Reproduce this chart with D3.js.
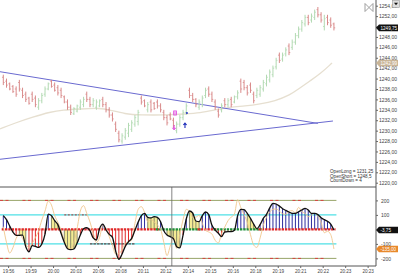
<!DOCTYPE html>
<html><head><meta charset="utf-8">
<script src="https://cdn.jsdelivr.net/npm/d3@7"></script>
<style>body{margin:0;background:#fff}svg{display:block}text{font-family:"Liberation Sans",Arial,sans-serif}</style>
</head><body><svg id="c" width="400" height="277"></svg>
<script>
// ---------- DATA ----------
const open=[1240.25,1239.5,1239,1238.5,1238,1239.25,1237.75,1237,1236.25,1237,
1236.25,1234.5,1235.75,1237,1238,1239.5,1238.75,1238.25,1237.75,1236.5,
1235.5,1234.5,1233.25,1233.75,1234.5,1235,1237,1236,1235,1234.5,
1234.75,1236,1235,1234,1233,1231.25,1229.5,1228,1228.75,1229.5,
1230.25,1231.25,1231.75,1236.25,1235.75,1234,1235.5,1235.25,1235.5,1234.75,
1233.5,1232.5,1233,1232,1230,1231.25,1232.5,1233.5,1237.75,1236.75,
1236,1234.5,1235,1236.75,1238,1237,1235.5,1233.75,1234,1235.75,
1235,1236,1235.5,1236.5,1239.5,1239.25,1238.25,1238.75,1237,1236.75,
1237,1238,1239,1239.75,1240.75,1242.25,1244.5,1243.75,1244.75,1246.25,
1246,1247,1248.25,1249.5,1250.5,1251.75,1251.25,1251.75,1253.25,1252.25,
1250,1251.75,1251.25,1250.5];
const high=[1240.75,1240,1239.25,1238.75,1238.5,1239.75,1238.25,1237.5,1236.5,1237.5,
1236.75,1236.25,1237.25,1238.5,1239.25,1239.75,1239.25,1238.75,1238.25,1236.75,
1236,1235,1234.5,1235,1236,1236.5,1237.5,1236.5,1236.25,1236,
1236,1236.5,1235.5,1234.5,1233.5,1231.75,1230,1229.5,1230.5,1231.5,
1232,1233,1234,1236.75,1236,1235.5,1236,1235.5,1236,1235.25,
1234,1233,1233.5,1232.5,1231.75,1233,1234,1235.25,1238.25,1237.25,
1236.25,1236,1236.75,1238.25,1238.5,1237.5,1236,1234.25,1235.25,1236.25,
1236.25,1236.5,1236.75,1237.75,1240,1239.75,1238.75,1239.25,1237.5,1238.25,
1238.75,1239.75,1240.75,1241.75,1242.5,1244,1245,1245,1246,1246.75,
1247.5,1248.75,1250,1251.25,1252.25,1252.25,1252.5,1253.25,1253.75,1252.75,
1252.25,1252.25,1251.75,1250.75];
const low=[1238.75,1238.25,1237.75,1237.25,1236.5,1237.5,1236.25,1235.5,1235,1235.5,
1234.5,1234,1235.25,1236.5,1237.75,1238.25,1237.5,1236.75,1236.25,1235.25,
1234,1233,1233,1233.5,1234,1234.5,1235.5,1234.5,1234.5,1234,
1234.5,1234.5,1233.5,1232.5,1231.75,1229.75,1227.75,1227.5,1228.25,1228.75,
1229.75,1230.75,1231,1235,1234.5,1233.5,1233.5,1234,1234.25,1233.5,
1232,1231,1232,1230.5,1229.5,1230.75,1232,1233,1236.25,1235.5,
1234.5,1234,1234.5,1236.25,1236.5,1235.5,1234,1232.5,1233.5,1234.5,
1234.5,1234.5,1235.25,1236,1237.25,1237.75,1236.75,1237.25,1235.25,1236.25,
1236.5,1237.5,1238.5,1239.25,1240.25,1241.75,1243,1243.25,1244.25,1244.5,
1245.5,1246.5,1247.75,1249,1250,1250.25,1250.75,1251.25,1251.75,1250.75,
1249.25,1250.25,1249.75,1249.25];
const close=[1239.25,1238.75,1238,1237.5,1237,1238,1236.75,1236,1235.25,1236,
1235,1235.75,1236.75,1238,1239,1238.5,1237.75,1237.25,1236.75,1235.5,
1234.5,1233.5,1234.25,1234.75,1235.5,1236,1236,1235,1235.75,1235.5,
1235.75,1235,1234,1233,1232.25,1230.25,1228.25,1229,1230,1231,
1231.5,1232.5,1233.5,1235.5,1234.75,1235,1234,1234.25,1234.75,1234,
1232.5,1231.5,1232.25,1231,1231.25,1232.5,1233.5,1234.75,1236.75,1236,
1235,1235.5,1236.25,1237.75,1237,1236,1234.5,1233,1234.75,1235,
1235.75,1235,1236.5,1237.25,1238,1238.25,1237.25,1237.75,1235.75,1237.75,
1238.25,1239.25,1240.25,1241.25,1242,1243.5,1243.5,1244.5,1245.5,1245,
1247,1248.25,1249.5,1250.75,1251.75,1250.75,1252,1252.75,1252.25,1251.25,
1251.5,1250.75,1250.25,1249.75];

const maIdx=[-1.03,3.64,9.25,14.55,18.6,23.9,30.1,33.2,37.9,42.6,51,56.6,61.3,65.9,70.6,75.3,80,84.6,89.3,92.4,95.5,98.7,102.4];
const maVal=[1230.32,1231.47,1232.62,1233.58,1233.97,1234.16,1234.35,1233.97,1233.2,1233.0,1233.0,1233.2,1233.39,1233.97,1234.54,1234.73,1235.12,1235.69,1236.85,1238.19,1239.54,1240.88,1242.99];

const upperIdx=[-1.03,98.0], upperPrice=[1241.32,1231.39];
const lowerIdx=[-1.03,102.7], lowerPrice=[1224.50,1231.85];

const markIdx=[53.5,53.2,57.2,56.6];
const markPrice=[1233.39,1230.5,1233.39,1231.08];
const markType=["shortSet","shortEntry","longSet","longEntry"];

const cci=[95,67,23,-18,-41,-41,-39,-119,-154,-112,
-117,-124,-101,-32,106,95,60,33,-27,-89,
-133,-140,-135,-94,-39,5,12,-9,-59,-73,
7,37,-4,-34,-55,-149,-206,-170,-117,-85,
-62,-6,49,95,111,83,79,88,83,53,
-9,-39,-50,-64,-119,-128,-39,72,127,113,
58,53,95,120,102,28,-4,-27,-50,-18,
-16,-16,-6,95,138,136,111,76,37,5,
33,76,104,148,180,175,161,143,131,120,
111,111,122,134,145,134,111,111,102,81,
67,56,37,-3.75];
const turbo=[19,-91,-163,-126,-62,-32,-62,-103,-126,-96,
-57,-9,65,127,195,168,95,49,-6,-80,
-126,-133,-89,7,127,164,111,51,-23,-91,
-55,28,5,-50,-110,-170,-167,-138,-94,-87,
-73,40,138,157,118,53,69,51,30,3,
-89,-181,-115,-52,-131,-34,67,138,125,83,
85,97,42,-6,-18,-32,-75,-94,-29,16,
60,85,106,205,150,102,49,-36,-108,-124,
-59,28,85,120,138,141,127,108,104,125,
129,115,152,122,111,88,99,111,90,49,
-23,-13,-36,-135];
const neutralRanges=[[5,7],[15,18],[19,23],[45,48],[51,55],[58,61],[76,79]];
const zeroStart=[0,48,61,66,80], zeroEnd=[48,61,66,80,103];
const zeroState=["trend","chop","trend","chop","trend"];
const crossIdx=52.5;

const tickIdx=[1.5,8.5,15.5,22.5,29.5,36.5,43.5,50.5,57.5,64.5,71.5,78.5,85.5,92.5,99.5,106.5,113.5];
const tickLabels=["19:56","19:59","20:00","20:03","20:06","20:08","20:11","20:12","20:14","20:15","20:16","20:18","20:19","20:21","20:22","20:23","20:23"];
const priceTicks=[1220,1222,1224,1226,1228,1230,1232,1234,1236,1238,1240,1242,1244,1246,1248,1250,1252,1254];
const cciTicks=[200,100,-100,-200];
const infoLines=["OpenLong = 1231,25","OpenShort = 1248,5","CountDown = 4"];

// ---------- DRAW ----------
const svg=d3.select('#c');
const AX=376, SEP=187, XAX=266;
const x=d3.scaleLinear().domain([0,103]).range([3.3,3.3+103*3.21]);
const yP=d3.scaleLinear().domain([1220,1254]).range([182.7,5.7]);
const yC=d3.scaleLinear().domain([-200,200]).range([258.4,200.4]);
const fmt=d=>d.toFixed(2).replace('.',',');
const FS=5;

svg.append('rect').attr('width',400).attr('height',277).attr('fill','#fff');
const defs=svg.append('defs');
defs.append('clipPath').attr('id','cu').append('rect').attr('x',0).attr('y',0).attr('width',AX).attr('height',SEP-0.5);
defs.append('clipPath').attr('id','cl').append('rect').attr('x',0).attr('y',SEP+0.5).attr('width',AX).attr('height',XAX-SEP-1);

const gU=svg.append('g').attr('clip-path','url(#cu)');
gU.append('path').datum(maIdx.map((d,i)=>[d,maVal[i]]))
  .attr('d',d3.line().x(d=>x(d[0])).y(d=>yP(d[1])).curve(d3.curveBasis))
  .attr('fill','none').attr('stroke','#e6dfd0').attr('stroke-width',1.3);
[[upperIdx,upperPrice],[lowerIdx,lowerPrice]].forEach(([ix,pr])=>{
  gU.append('path').datum(ix.map((d,i)=>[d,pr[i]]))
    .attr('d',d3.line().x(d=>x(d[0])).y(d=>yP(d[1])))
    .attr('fill','none').attr('stroke','#6a6ad0').attr('stroke-width',1);
});
const idx=d3.range(open.length);
const col=i=>close[i]<open[i]?'#d98a8a':'#b2dab2';
const bg=gU.append('g');
bg.selectAll('line.hl').data(idx).join('line').attr('class','hl')
  .attr('x1',i=>x(i)).attr('x2',i=>x(i)).attr('y1',i=>yP(high[i])).attr('y2',i=>yP(low[i]))
  .attr('stroke',col).attr('stroke-width',1);
bg.selectAll('line.o').data(idx).join('line').attr('class','o')
  .attr('x1',i=>x(i)-1.3).attr('x2',i=>x(i)).attr('y1',i=>yP(open[i])).attr('y2',i=>yP(open[i]))
  .attr('stroke',col).attr('stroke-width',0.8);
bg.selectAll('line.c').data(idx).join('line').attr('class','c')
  .attr('x1',i=>x(i)).attr('x2',i=>x(i)+1.3).attr('y1',i=>yP(close[i])).attr('y2',i=>yP(close[i]))
  .attr('stroke',col).attr('stroke-width',0.8);
markIdx.forEach((m,k)=>{
  const cx=x(m), cy=yP(markPrice[k]), t=markType[k];
  if(t==='shortSet'){
    gU.append('rect').attr('x',cx-1.3).attr('y',cy-2).attr('width',2.6).attr('height',4).attr('fill','none').attr('stroke','#e040e0').attr('stroke-width',0.9);
    gU.append('line').attr('x1',cx-1.3).attr('x2',cx+1.3).attr('y1',cy).attr('y2',cy).attr('stroke','#e040e0').attr('stroke-width',0.7);
  } else if(t==='shortEntry'){
    gU.append('path').attr('d',`M${cx},${cy-3}V${cy+1}M${cx-1.6},${cy-0.2}L${cx},${cy+1.8}L${cx+1.6},${cy-0.2}`).attr('fill','none').attr('stroke','#e040e0').attr('stroke-width',1);
    gU.append('circle').attr('cx',cx).attr('cy',cy+0.5).attr('r',1.2).attr('fill','#e060e0').attr('opacity',0.6);
  } else if(t==='longSet'){
    gU.append('circle').attr('cx',cx).attr('cy',cy).attr('r',1).attr('fill','#2030c0');
  } else {
    gU.append('path').attr('d',`M${cx},${cy+3}V${cy-1.5}M${cx-1.6},${cy}L${cx},${cy-2}L${cx+1.6},${cy}`).attr('fill','none').attr('stroke','#1a2ab8').attr('stroke-width',1.1);
  }
});
infoLines.forEach((t,k)=>{
  svg.append('text').attr('x',330).attr('y',172.8+k*4.7).attr('font-size',4.6).attr('fill','#333').text(t);
});

// ---------- LOWER PANEL ----------
const gL=svg.append('g').attr('clip-path','url(#cl)');
const xEnd=x(103)+2.5;
[200,-200].forEach(v=>{
  gL.append('line').attr('x1',0).attr('x2',xEnd).attr('y1',yC(v)).attr('y2',yC(v)).attr('stroke','#8c9a58').attr('stroke-width',0.9);
  gL.append('line').attr('x1',0).attr('x2',xEnd).attr('y1',yC(v)).attr('y2',yC(v)).attr('stroke','#d84040').attr('stroke-width',1).attr('stroke-dasharray','3,2.5,3,14');
});
[100,-100].forEach(v=>{
  gL.append('line').attr('x1',0).attr('x2',xEnd).attr('y1',yC(v)).attr('y2',yC(v)).attr('stroke','#4fe0e6').attr('stroke-width',1.4);
});
gL.append('line').attr('x1',x(19)).attr('x2',x(26)).attr('y1',yC(100)).attr('y2',yC(100)).attr('stroke','#b03030').attr('stroke-width',1).attr('stroke-dasharray','2,1.5');
gL.append('line').attr('x1',x(27)).attr('x2',x(41)).attr('y1',yC(-100)).attr('y2',yC(-100)).attr('stroke','#602020').attr('stroke-width',1).attr('stroke-dasharray','2.5,1');
const area=d3.area().x(i=>x(i)).y0(yC(0)).y1(i=>yC(cci[i]));
neutralRanges.forEach(([a,b])=>{
  gL.append('path').datum(d3.range(a,b+1)).attr('d',area).attr('fill','#f3ea88').attr('opacity',0.9);
});
const isNeutral=i=>neutralRanges.some(([a,b])=>i>=a&&i<=b);
gL.selectAll('line.h').data(idx).join('line').attr('class','h')
  .attr('x1',i=>x(i)).attr('x2',i=>x(i)).attr('y1',yC(0)).attr('y2',i=>yC(cci[i]))
  .attr('stroke',i=>isNeutral(i)?'#8a8a6a':(cci[i]>=0?'#2d2d9e':'#e02a2a')).attr('stroke-width',1);
zeroStart.forEach((a,k)=>{
  gL.append('line').attr('x1',x(a)-1.6).attr('x2',Math.min(x(zeroEnd[k])+1.6,xEnd)).attr('y1',yC(0)).attr('y2',yC(0))
    .attr('stroke',zeroState[k]==='trend'?'#e02828':'#1f8f3a').attr('stroke-width',2.4).attr('stroke-dasharray','2.4,0.9');
});
gL.append('path').datum(idx).attr('d',d3.line().x(i=>x(i)).y(i=>yC(turbo[i])).curve(d3.curveMonotoneX))
  .attr('fill','none').attr('stroke','#f0c68c').attr('stroke-width',0.9);
gL.append('path').datum(idx).attr('d',d3.line().x(i=>x(i)).y(i=>yC(cci[i])).curve(d3.curveMonotoneX))
  .attr('fill','none').attr('stroke','#111').attr('stroke-width',1.3);
svg.append('line').attr('x1',x(crossIdx)).attr('x2',x(crossIdx)).attr('y1',SEP).attr('y2',XAX).attr('stroke','#666').attr('stroke-width',0.8);

// ---------- AXES & FRAME ----------
svg.append('line').attr('x1',0).attr('x2',AX).attr('y1',SEP).attr('y2',SEP).attr('stroke','#555').attr('stroke-width',1);
svg.append('line').attr('x1',0).attr('x2',AX).attr('y1',XAX).attr('y2',XAX).attr('stroke','#555').attr('stroke-width',1);
svg.append('line').attr('x1',AX).attr('x2',AX).attr('y1',0).attr('y2',XAX).attr('stroke','#555').attr('stroke-width',1);

function styleAxis(g){
  g.select('.domain').remove();
  g.selectAll('line').attr('stroke','#666');
  g.selectAll('text').attr('font-size',FS).attr('fill','#444').attr('font-family','"Liberation Sans",Arial,sans-serif');
}
const lastClose=close[close.length-1];
const pAxis=svg.append('g').attr('transform',`translate(${AX},0)`)
  .call(d3.axisRight(yP).tickValues(priceTicks).tickFormat(fmt).tickSize(2).tickPadding(1)).call(styleAxis);
// label that sits beneath the last-price box is hidden by it, as in the reference
pAxis.selectAll('.tick').filter(d=>Math.abs(yP(d)-yP(lastClose))<4.5).select('text').remove();
svg.append('g').attr('transform',`translate(${AX},0)`)
  .call(d3.axisRight(yC).tickValues(cciTicks).tickFormat(d=>String(d)).tickSize(2).tickPadding(3)).call(styleAxis);
svg.append('g').attr('transform',`translate(0,${XAX})`)
  .call(d3.axisBottom(x).tickValues(tickIdx).tickFormat((d,i)=>tickLabels[i]).tickSize(2).tickPadding(1.5)).call(styleAxis)
  .selectAll('text').attr('font-size',4.6);

function box(yv,fill,tcol,txt){
  const g=svg.append('g');
  g.append('path').attr('d',`M${AX},${yv}L${AX+3},${yv-3.3}H${AX+22}V${yv+3.3}H${AX+3}Z`).attr('fill',fill);
  g.append('text').attr('x',AX+4.5).attr('y',yv+1.7).attr('font-size',4.6).attr('fill',tcol).text(txt);
}
const lastMA=maVal[maVal.length-1];
box(yP(lastMA),'#c9b597','#fff',fmt(lastMA));
box(yP(lastClose),'#111','#fff',fmt(lastClose));
box(yC(turbo[turbo.length-1]),'#e8892c','#fff',fmt(turbo[turbo.length-1]));
box(yC(cci[cci.length-1]),'#111','#fff',fmt(cci[cci.length-1]));

svg.append('path').attr('d','M365,3.5V11.5L369,7.5ZM373,3.5V11.5L369,7.5Z').attr('fill','none').attr('stroke','#888').attr('stroke-width',0.8);
svg.append('rect').attr('x',392.5).attr('y',0.5).attr('width',7).attr('height',7).attr('fill','#ddd').attr('stroke','#999').attr('stroke-width',0.6);
svg.append('path').attr('d','M394,2.8H398L396,5.2Z').attr('fill','#111');
</script></body></html>
